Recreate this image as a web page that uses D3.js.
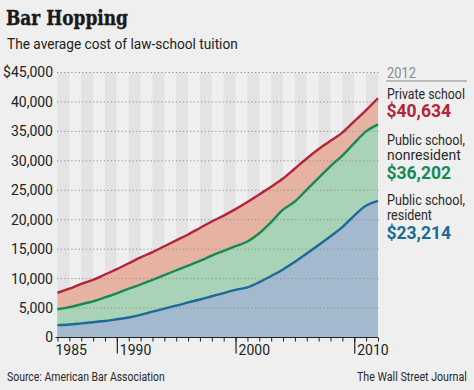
<!DOCTYPE html>
<html><head><meta charset="utf-8">
<script src="https://cdn.jsdelivr.net/npm/d3@7"></script>
<style>
html,body{margin:0;padding:0;background:#efefef;}
svg{display:block;}
</style></head>
<body>
<svg id="c" width="474" height="390"></svg>
<script>
// ---------- data ----------
const years = [1985,1986,1987,1988,1989,1990,1991,1992,1993,1994,1995,1996,1997,1998,1999,2000,2001,2002,2003,2004,2005,2006,2007,2008,2009,2010,2011,2012];
const privateSchool = [7600,8300,9100,9800,10700,11600,12600,13600,14500,15500,16500,17500,18600,19700,20700,21800,23000,24300,25600,27000,28700,30400,32000,33400,34800,36700,38600,40634];
const publicNonresident = [4800,5150,5650,6150,6800,7500,8300,9000,9800,10600,11400,12200,13000,13900,14700,15500,16300,17700,19600,21700,23100,25100,27100,29100,30900,33000,35000,36202];
const publicResident = [2100,2200,2400,2600,2800,3100,3400,3850,4400,4900,5400,5950,6450,7000,7550,8100,8500,9400,10450,11550,12850,14250,15700,17200,18750,20700,22400,23214];
const yTicks = [0,5000,10000,15000,20000,25000,30000,35000,40000,45000];
const yTickLabels = ["0","5,000","10,000","15,000","20,000","25,000","30,000","35,000","40,000","$45,000"];
const xMajor = [1990,2000,2010];
const xLabels = ["1985","1990","2000","2010"];
const seriesNames = ["Private school","Public school, nonresident","Public school, resident"];
const endLabels = ["$40,634","$36,202","$23,214"];

const colors = {
  bg:"#efefef", stripe:"#e3e3e3",
  redLine:"#b3243a", redFill:"#e6b3a3",
  greenLine:"#168a55", greenFill:"#a9d3b6",
  blueLine:"#1b6a98", blueFill:"#a3b9cd"
};

const svg = d3.select("#c");
svg.append("rect").attr("width",474).attr("height",390).attr("fill",colors.bg);

const x = d3.scaleLinear().domain([1985,2012]).range([57.5,378]);
const y = d3.scaleLinear().domain([0,45000]).range([337.5,72.5]);

// place a text at (px,py) and squeeze it horizontally to width w
function fitText(px, py, w, str, attrs){
  const g = svg.append("g");
  const t = g.append("text").attr("x",0).attr("y",0).text(str);
  Object.entries(attrs).forEach(([k,v])=>t.attr(k,v));
  const len = t.node().getComputedTextLength();
  const sx = Math.abs(len - w)/w > 0.03 ? w/len : 1;
  g.attr("transform", `translate(${px},${py}) scale(${sx},1)`);
  return t;
}

// stripes (every other year)
const stripeYears = years.filter((d,i)=> i%2===0 && d<2012);
svg.append("g").selectAll("rect").data(stripeYears).join("rect")
  .attr("x", d=>x(d)).attr("width", d=>x(d+1)-x(d))
  .attr("y", y(45000)).attr("height", y(0)-y(45000))
  .attr("fill", colors.stripe);

// areas
const rows = years.map((yr,i)=>({yr, p:privateSchool[i], n:publicNonresident[i], r:publicResident[i]}));
const mkArea = k => d3.area().x(d=>x(d.yr)).y0(y(0)).y1(d=>y(d[k])).curve(d3.curveMonotoneX);
svg.append("path").datum(rows).attr("d", mkArea("p")).attr("fill", colors.redFill);
svg.append("path").datum(rows).attr("d", mkArea("n")).attr("fill", colors.greenFill);
svg.append("path").datum(rows).attr("d", mkArea("r")).attr("fill", colors.blueFill);

// gridlines
svg.append("g").selectAll("line").data(yTicks.filter(d=>d>0)).join("line")
  .attr("x1", 57).attr("x2", 380).attr("y1", d=>y(d)).attr("y2", d=>y(d))
  .attr("stroke","#8f8f8f").attr("stroke-width",1).attr("stroke-dasharray","1.2,2.4");

// lines
const mkLine = k => d3.line().x(d=>x(d.yr)).y(d=>y(d[k])).curve(d3.curveMonotoneX);
svg.append("path").datum(rows).attr("d", mkLine("p")).attr("fill","none").attr("stroke",colors.redLine).attr("stroke-width",2.4);
svg.append("path").datum(rows).attr("d", mkLine("n")).attr("fill","none").attr("stroke",colors.greenLine).attr("stroke-width",2.4);
svg.append("path").datum(rows).attr("d", mkLine("r")).attr("fill","none").attr("stroke",colors.blueLine).attr("stroke-width",2.4);

// y axis labels
const yAxis = d3.axisLeft(y).tickValues(yTicks).tickSize(0).tickPadding(0)
  .tickFormat((d,i)=>yTickLabels[i]);
const gy = svg.append("g").attr("transform","translate(53,0)").call(yAxis);
gy.select(".domain").remove();
gy.selectAll("text").attr("font-family","Roboto, 'Noto Sans', sans-serif").attr("font-size",14).attr("fill","#222");

// x axis: minor ticks
const xAxis = d3.axisBottom(x).tickValues(years).tickSize(4).tickFormat("");
const gx = svg.append("g").attr("transform","translate(0,337.5)").call(xAxis);
gx.select(".domain").attr("d","M55.5,0H378").attr("stroke","#222").attr("stroke-width",1.2);
gx.selectAll(".tick line").attr("stroke","#222").attr("stroke-width",1);
// major ticks
const xAxisMajor = d3.axisBottom(x).tickValues(xMajor).tickSize(16).tickFormat("");
const gx2 = svg.append("g").attr("transform","translate(0,337.5)").call(xAxisMajor);
gx2.select(".domain").remove();
gx2.selectAll(".tick line").attr("stroke","#222").attr("stroke-width",1.2);
// x labels
svg.append("g").selectAll("text").data(xLabels).join("text")
  .attr("x", d=> d==="1985" ? x(1985)-2 : x(+d)+3)
  .attr("y", 355)
  .attr("font-family","Roboto, 'Noto Sans', sans-serif").attr("font-size",14).attr("fill","#222")
  .text(d=>d);

const sans = "Roboto, 'Noto Sans', sans-serif";
// title & subtitle
fitText(6, 24.5, 122, "Bar Hopping", {"font-family":"'DejaVu Serif', serif","font-weight":"bold","font-size":20,
  "fill":"#1a1a1a","stroke":"#1a1a1a","stroke-width":0.4});
fitText(7, 49, 231, "The average cost of law-school tuition", {"font-family":sans,"font-size":15.5,"fill":"#222"});

// legend
const lx = 387;
fitText(lx, 77.5, 29, "2012", {"font-family":sans,"font-size":14,"fill":"#8a8a8a"});
svg.append("line").attr("x1",386).attr("x2",467).attr("y1",81).attr("y2",81).attr("stroke","#a8a8a8").attr("stroke-width",1.5);

const legendLines = [
  {t:"Private school", y:98.5, w:78},
  {t:"Public school,", y:144.5, w:78},
  {t:"nonresident", y:160, w:75},
  {t:"Public school,", y:205, w:78},
  {t:"resident", y:220, w:45}
];
legendLines.forEach(l=>{
  fitText(lx, l.y, l.w, l.t, {"font-family":sans,"font-size":14,"fill":"#2a2a2a"});
});
const endCols = [colors.redLine, colors.greenLine, colors.blueLine];
const endY = [116.8, 178.8, 239.4];
endLabels.forEach((t,i)=>{
  fitText(lx-0.5, endY[i], 65, t, {"font-family":sans,"font-weight":"bold","font-size":17.5,"fill":endCols[i]});
});

// footer
fitText(7, 381, 158, "Source: American Bar Association", {"font-family":sans,"font-size":13,"fill":"#2a2a2a"});
fitText(357, 381, 110, "The Wall Street Journal", {"font-family":sans,"font-size":13,"fill":"#2a2a2a"});
</script>
</body></html>
